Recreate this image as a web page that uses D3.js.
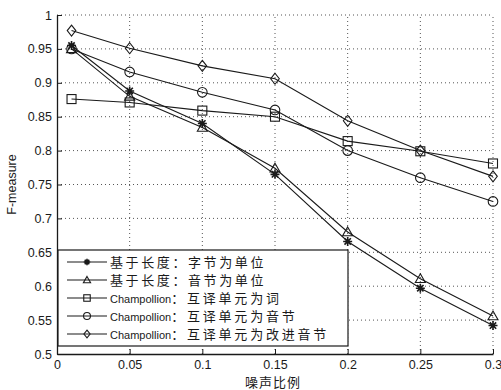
<!DOCTYPE html>
<html><head><meta charset="utf-8">
<script src="https://cdn.jsdelivr.net/npm/d3@7"></script>
<style>body{margin:0;background:#fff}svg{display:block}</style>
</head><body>
<script>
const xValues = [0.01, 0.05, 0.1, 0.15, 0.2, 0.25, 0.3];
const seriesNames = ["基于长度：字节为单位", "基于长度：音节为单位", "Champollion：互译单元为词", "Champollion：互译单元为音节", "Champollion：互译单元为改进音节"];
const lenByte = [0.955, 0.888, 0.840, 0.765, 0.666, 0.597, 0.542];
const lenSyll = [0.950, 0.880, 0.834, 0.774, 0.680, 0.611, 0.556];
const champWord = [0.876, 0.871, 0.859, 0.850, 0.814, 0.799, 0.781];
const champSyll = [0.950, 0.916, 0.886, 0.860, 0.800, 0.760, 0.725];
const champImp = [0.977, 0.951, 0.925, 0.906, 0.844, 0.800, 0.762];
const markers = ["star", "triangle", "square", "circle", "diamond"];
const xTicks = [0, 0.05, 0.1, 0.15, 0.2, 0.25, 0.3];
const yTicks = [0.5, 0.55, 0.6, 0.65, 0.7, 0.75, 0.8, 0.85, 0.9, 0.95, 1];
const xLabel = "噪声比例";
const yLabel = "F-measure";

const W = 501, H = 390;
const m = {l: 57, r: 8, t: 15, b: 36};
const svg = d3.select("body").append("svg").attr("width", W).attr("height", H);
const x = d3.scaleLinear().domain([0, 0.3]).range([m.l, W - m.r]);
const y = d3.scaleLinear().domain([0.5, 1]).range([H - m.b, m.t]);
const ink = "#1a1a1a";
const font = "'Liberation Sans', Arial, sans-serif";
const cjk = "'Noto Sans CJK SC', sans-serif";

// grid
const g = svg.append("g");
g.selectAll(".gx").data(xTicks.slice(1)).join("line")
  .attr("x1", d => x(d)).attr("x2", d => x(d)).attr("y1", y(0.5)).attr("y2", y(1))
  .attr("stroke", "#555").attr("stroke-width", 1).attr("stroke-dasharray", "1,3");
g.selectAll(".gy").data(yTicks.slice(1)).join("line")
  .attr("x1", x(0)).attr("x2", x(0.3)).attr("y1", d => y(d)).attr("y2", d => y(d))
  .attr("stroke", "#555").attr("stroke-width", 1).attr("stroke-dasharray", "1,3");

// axes
const xAxis = d3.axisBottom(x).tickValues(xTicks).tickSizeInner(-5).tickSizeOuter(0).tickPadding(6)
  .tickFormat(d => d === 0 ? "0" : d3.format("")(+d.toFixed(2)));
const yAxis = d3.axisLeft(y).tickValues(yTicks).tickSizeInner(-5).tickSizeOuter(0).tickPadding(5)
  .tickFormat(d => d === 1 ? "1" : d3.format("")(+d.toFixed(2)));
const ax = svg.append("g").attr("transform", `translate(0,${y(0.5)})`).call(xAxis);
const ay = svg.append("g").attr("transform", `translate(${x(0)},0)`).call(yAxis);
[ax, ay].forEach(a => {
  a.select(".domain").attr("stroke", ink).attr("stroke-width", 1.3);
  a.selectAll(".tick line").attr("stroke", ink);
  a.selectAll("text").attr("font-family", font).attr("font-size", 12.5).attr("fill", ink);
});

svg.append("text").attr("x", (x(0) + x(0.3)) / 2 - 2).attr("y", 387).attr("text-anchor", "middle")
  .attr("font-family", cjk).attr("font-size", 13).attr("letter-spacing", 1).attr("fill", ink).text(xLabel);
svg.append("text").attr("transform", `translate(16,${(y(0.5) + y(1)) / 2}) rotate(-90)`)
  .attr("text-anchor", "middle").attr("font-family", font).attr("font-size", 12.5).attr("fill", ink).text(yLabel);

function drawMarker(sel, type, cx, cy, s) {
  if (type === "star") {
    const p = d3.path(); const r = 4.5*s;
    for (let k = 0; k < 4; k++) { const a = k * Math.PI / 4; p.moveTo(cx - r*Math.cos(a), cy - r*Math.sin(a)); p.lineTo(cx + r*Math.cos(a), cy + r*Math.sin(a)); }
    sel.append("path").attr("d", p.toString()).attr("stroke", ink).attr("stroke-width", 1.6).attr("fill", "none");
    sel.append("circle").attr("cx", cx).attr("cy", cy).attr("r", 1.8*s).attr("fill", ink);
  } else if (type === "triangle") {
    const r = 5*s;
    sel.append("path").attr("d", `M${cx},${cy - r}L${cx + r},${cy + r*0.75}L${cx - r},${cy + r*0.75}Z`)
      .attr("stroke", ink).attr("fill", "none").attr("stroke-width", 1.1);
  } else if (type === "square") {
    const r = 4.5*s;
    sel.append("rect").attr("x", cx - r).attr("y", cy - r).attr("width", 2*r).attr("height", 2*r)
      .attr("stroke", ink).attr("fill", "none").attr("stroke-width", 1.1);
  } else if (type === "circle") {
    sel.append("circle").attr("cx", cx).attr("cy", cy).attr("r", 4.8*s).attr("stroke", ink).attr("fill", "none").attr("stroke-width", 1.1);
  } else {
    const rx = 4.3*s, ry = 5.5*s;
    sel.append("path").attr("d", `M${cx},${cy - ry}L${cx + rx},${cy}L${cx},${cy + ry}L${cx - rx},${cy}Z`)
      .attr("stroke", ink).attr("fill", "none").attr("stroke-width", 1.1);
  }
}

const allSeries = [lenByte, lenSyll, champWord, champSyll, champImp];
const line = d3.line().x((d, i) => x(xValues[i])).y(d => y(d));
allSeries.forEach((vals, si) => {
  const sg = svg.append("g");
  sg.append("path").datum(vals).attr("d", line).attr("fill", "none").attr("stroke", ink).attr("stroke-width", 1.1);
  vals.forEach((v, i) => drawMarker(sg, markers[si], x(xValues[i]), y(v), 1));
});

// legend
const lg = svg.append("g");
const lx0 = x(0) + 1, ly0 = 250, lw = 290, lh = 96;
lg.append("rect").attr("x", lx0).attr("y", ly0).attr("width", lw).attr("height", lh)
  .attr("fill", "#fff").attr("stroke", ink).attr("stroke-width", 1.2);
seriesNames.forEach((name, i) => {
  const cy = 262 + i * 18;
  lg.append("line").attr("x1", 67).attr("x2", 107).attr("y1", cy).attr("y2", cy).attr("stroke", ink).attr("stroke-width", 1.1);
  drawMarker(lg, markers[i], 87, cy, 0.72);
  const t = lg.append("text").attr("x", 110).attr("y", cy + 4.5).attr("fill", ink);
  if (name.startsWith("Champollion")) {
    t.append("tspan").attr("font-family", font).attr("font-size", 11).text("Champollion");
    t.append("tspan").attr("font-family", cjk).attr("font-size", 13).attr("letter-spacing", 2.8).text(name.slice(11));
  } else {
    t.attr("font-family", cjk).attr("font-size", 13).attr("letter-spacing", 2.6).text(name);
  }
});
</script>
</body></html>
